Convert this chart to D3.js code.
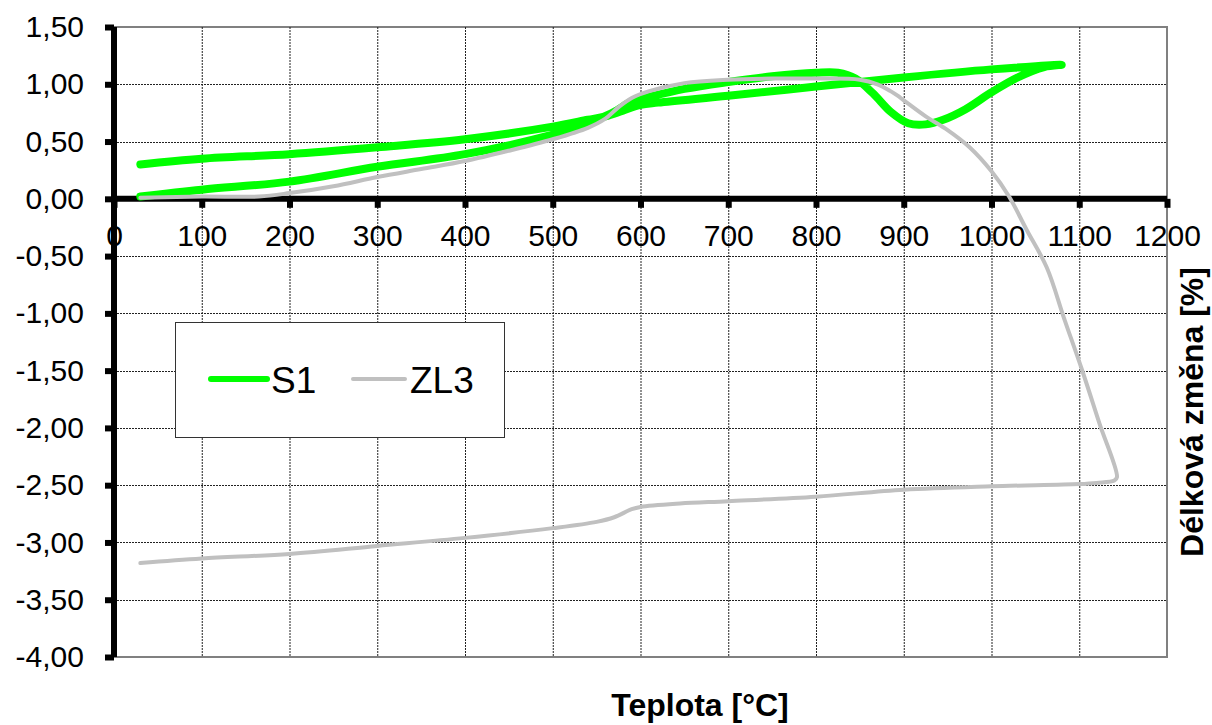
<!DOCTYPE html>
<html>
<head>
<meta charset="utf-8">
<script src="https://cdn.jsdelivr.net/npm/d3@7"></script>
<style>
  body { margin: 0; background: #fff; }
  text { font-family: "Liberation Sans", Arial, sans-serif; }
</style>
</head>
<body>
<div id="chart"></div>
<script>
// temperature [°C] and length change [%], heating then cooling
let s1Temp = [30, 100, 200, 300, 400, 500, 530, 550, 570, 590, 610, 650, 700, 750, 800, 825, 845, 865, 885, 905, 925, 945, 970, 1000, 1030, 1060, 1080,
              1000, 900, 800, 700, 620, 600, 580, 560, 540, 500, 400, 300, 200, 100, 30];
let s1Val  = [0.02, 0.08, 0.15, 0.28, 0.39, 0.56, 0.63, 0.69, 0.76, 0.85, 0.89, 0.96, 1.02, 1.07, 1.10, 1.10, 1.05, 0.92, 0.76, 0.66, 0.65, 0.69, 0.78, 0.93, 1.06, 1.15, 1.17,
              1.13, 1.06, 0.98, 0.90, 0.84, 0.82, 0.77, 0.72, 0.69, 0.63, 0.52, 0.45, 0.39, 0.35, 0.30];

let zl3Temp = [30, 100, 165, 200, 250, 300, 350, 400, 450, 500, 540, 560, 575, 590, 610, 650, 700, 750, 800, 850, 870, 885, 893, 900, 925, 950, 975, 1000, 1020, 1040, 1063, 1083, 1103, 1123, 1143,
               1140, 1120, 1100, 1000, 900, 800, 700, 645, 600, 590, 570, 550, 500, 400, 300, 200, 100, 30];
let zl3Val  = [0.01, 0.02, 0.02, 0.05, 0.11, 0.19, 0.26, 0.33, 0.42, 0.52, 0.62, 0.70, 0.80, 0.88, 0.94, 1.01, 1.04, 1.05, 1.05, 1.04, 1.00, 0.94, 0.90, 0.86, 0.72, 0.60, 0.45, 0.24, 0.02, -0.27, -0.60, -1.05, -1.49, -1.96, -2.43,
               -2.46, -2.48, -2.49, -2.51, -2.54, -2.60, -2.64, -2.66, -2.69, -2.71, -2.78, -2.82, -2.875, -2.96, -3.03, -3.10, -3.14, -3.18];

let seriesNames = ["S1", "ZL3"];
let xTicks = [0, 100, 200, 300, 400, 500, 600, 700, 800, 900, 1000, 1100, 1200];
let yTicks = [1.5, 1.0, 0.5, 0, -0.5, -1.0, -1.5, -2.0, -2.5, -3.0, -3.5, -4.0];

let width = 1212, height = 725;
let plot = {left: 114, right: 1167, top: 27, bottom: 657};

let svg = d3.select("#chart").append("svg")
    .attr("width", width)
    .attr("height", height);

let x = d3.scaleLinear().domain([0, 1200]).range([plot.left, plot.right]);
let y = d3.scaleLinear().domain([-4, 1.5]).range([plot.bottom, plot.top]);

// plot area border
svg.append("rect")
    .attr("x", plot.left).attr("y", plot.top)
    .attr("width", plot.right - plot.left).attr("height", plot.bottom - plot.top)
    .attr("fill", "none").attr("stroke", "#808080").attr("stroke-width", 2);

// grid
let grid = svg.append("g").attr("stroke", "#222").attr("stroke-width", 1).attr("stroke-dasharray", "2,1");
grid.selectAll(".vg").data(xTicks.slice(1, -1)).enter().append("line")
    .attr("x1", d => x(d) + 0.5).attr("x2", d => x(d) + 0.5)
    .attr("y1", plot.top).attr("y2", plot.bottom);
grid.selectAll(".hg").data(yTicks.slice(1, -1)).enter().append("line")
    .attr("y1", d => Math.round(y(d)) + 0.5).attr("y2", d => Math.round(y(d)) + 0.5)
    .attr("x1", plot.left).attr("x2", plot.right);

// axes crossing at 0,0
let xAxis = svg.append("g")
    .attr("transform", "translate(0," + y(0) + ")")
    .call(d3.axisBottom(x).tickValues(xTicks).tickSize(9).tickPadding(17).tickFormat(d3.format("d")));
let yAxis = svg.append("g")
    .attr("transform", "translate(" + x(0) + ",0)")
    .call(d3.axisLeft(y).tickValues(yTicks).tickSize(9).tickPadding(21).tickFormat(d => d.toFixed(2).replace(".", ",")));

[xAxis, yAxis].forEach(function(a) {
  a.select(".domain").attr("stroke", "#000").attr("stroke-width", 6);
  a.selectAll(".tick line").attr("stroke", "#000").attr("stroke-width", 6);
  a.selectAll(".tick text").attr("fill", "#000").style("font-size", "30px")
      .style("font-family", "'Liberation Sans', Arial, sans-serif");
});
xAxis.select(".domain").attr("d", "M" + plot.left + ",0H" + plot.right);
yAxis.select(".domain").attr("d", "M0," + plot.top + "V" + plot.bottom);

// curves
let line = d3.line()
    .x(d => x(d[0]))
    .y(d => y(d[1]))
    .curve(d3.curveCatmullRom.alpha(0.5));

svg.append("path")
    .datum(d3.zip(s1Temp, s1Val))
    .attr("d", line)
    .attr("fill", "none").attr("stroke", "#00ff00").attr("stroke-width", 8)
    .attr("stroke-linecap", "round").attr("stroke-linejoin", "round");

svg.append("path")
    .datum(d3.zip(zl3Temp, zl3Val))
    .attr("d", line)
    .attr("fill", "none").attr("stroke", "#c0c0c0").attr("stroke-width", 4)
    .attr("stroke-linecap", "round").attr("stroke-linejoin", "round");

// legend
let legend = svg.append("g");
legend.append("rect")
    .attr("x", 175.5).attr("y", 322.5).attr("width", 329).attr("height", 115)
    .attr("fill", "#fff").attr("stroke", "#333").attr("stroke-width", 1);
let legendItems = [
  {name: seriesNames[0], color: "#00ff00", w: 6, x1: 211, x2: 267, tx: 271},
  {name: seriesNames[1], color: "#c0c0c0", w: 4, x1: 353, x2: 405, tx: 410}
];
legendItems.forEach(function(it) {
  legend.append("line")
      .attr("x1", it.x1).attr("x2", it.x2).attr("y1", 379).attr("y2", 379)
      .attr("stroke", it.color).attr("stroke-width", it.w).attr("stroke-linecap", "round");
  legend.append("text")
      .attr("x", it.tx).attr("y", 393)
      .style("font-size", "37px")
      .text(it.name);
});

// axis titles
svg.append("text")
    .attr("x", 700).attr("y", 716)
    .attr("text-anchor", "middle")
    .style("font-size", "32px").style("font-weight", "bold")
    .text("Teplota [°C]");

svg.append("text")
    .attr("transform", "translate(1203,412) rotate(-90)")
    .attr("text-anchor", "middle")
    .style("font-size", "32px").style("font-weight", "bold")
    .text("Délková změna [%]");
</script>
</body>
</html>
